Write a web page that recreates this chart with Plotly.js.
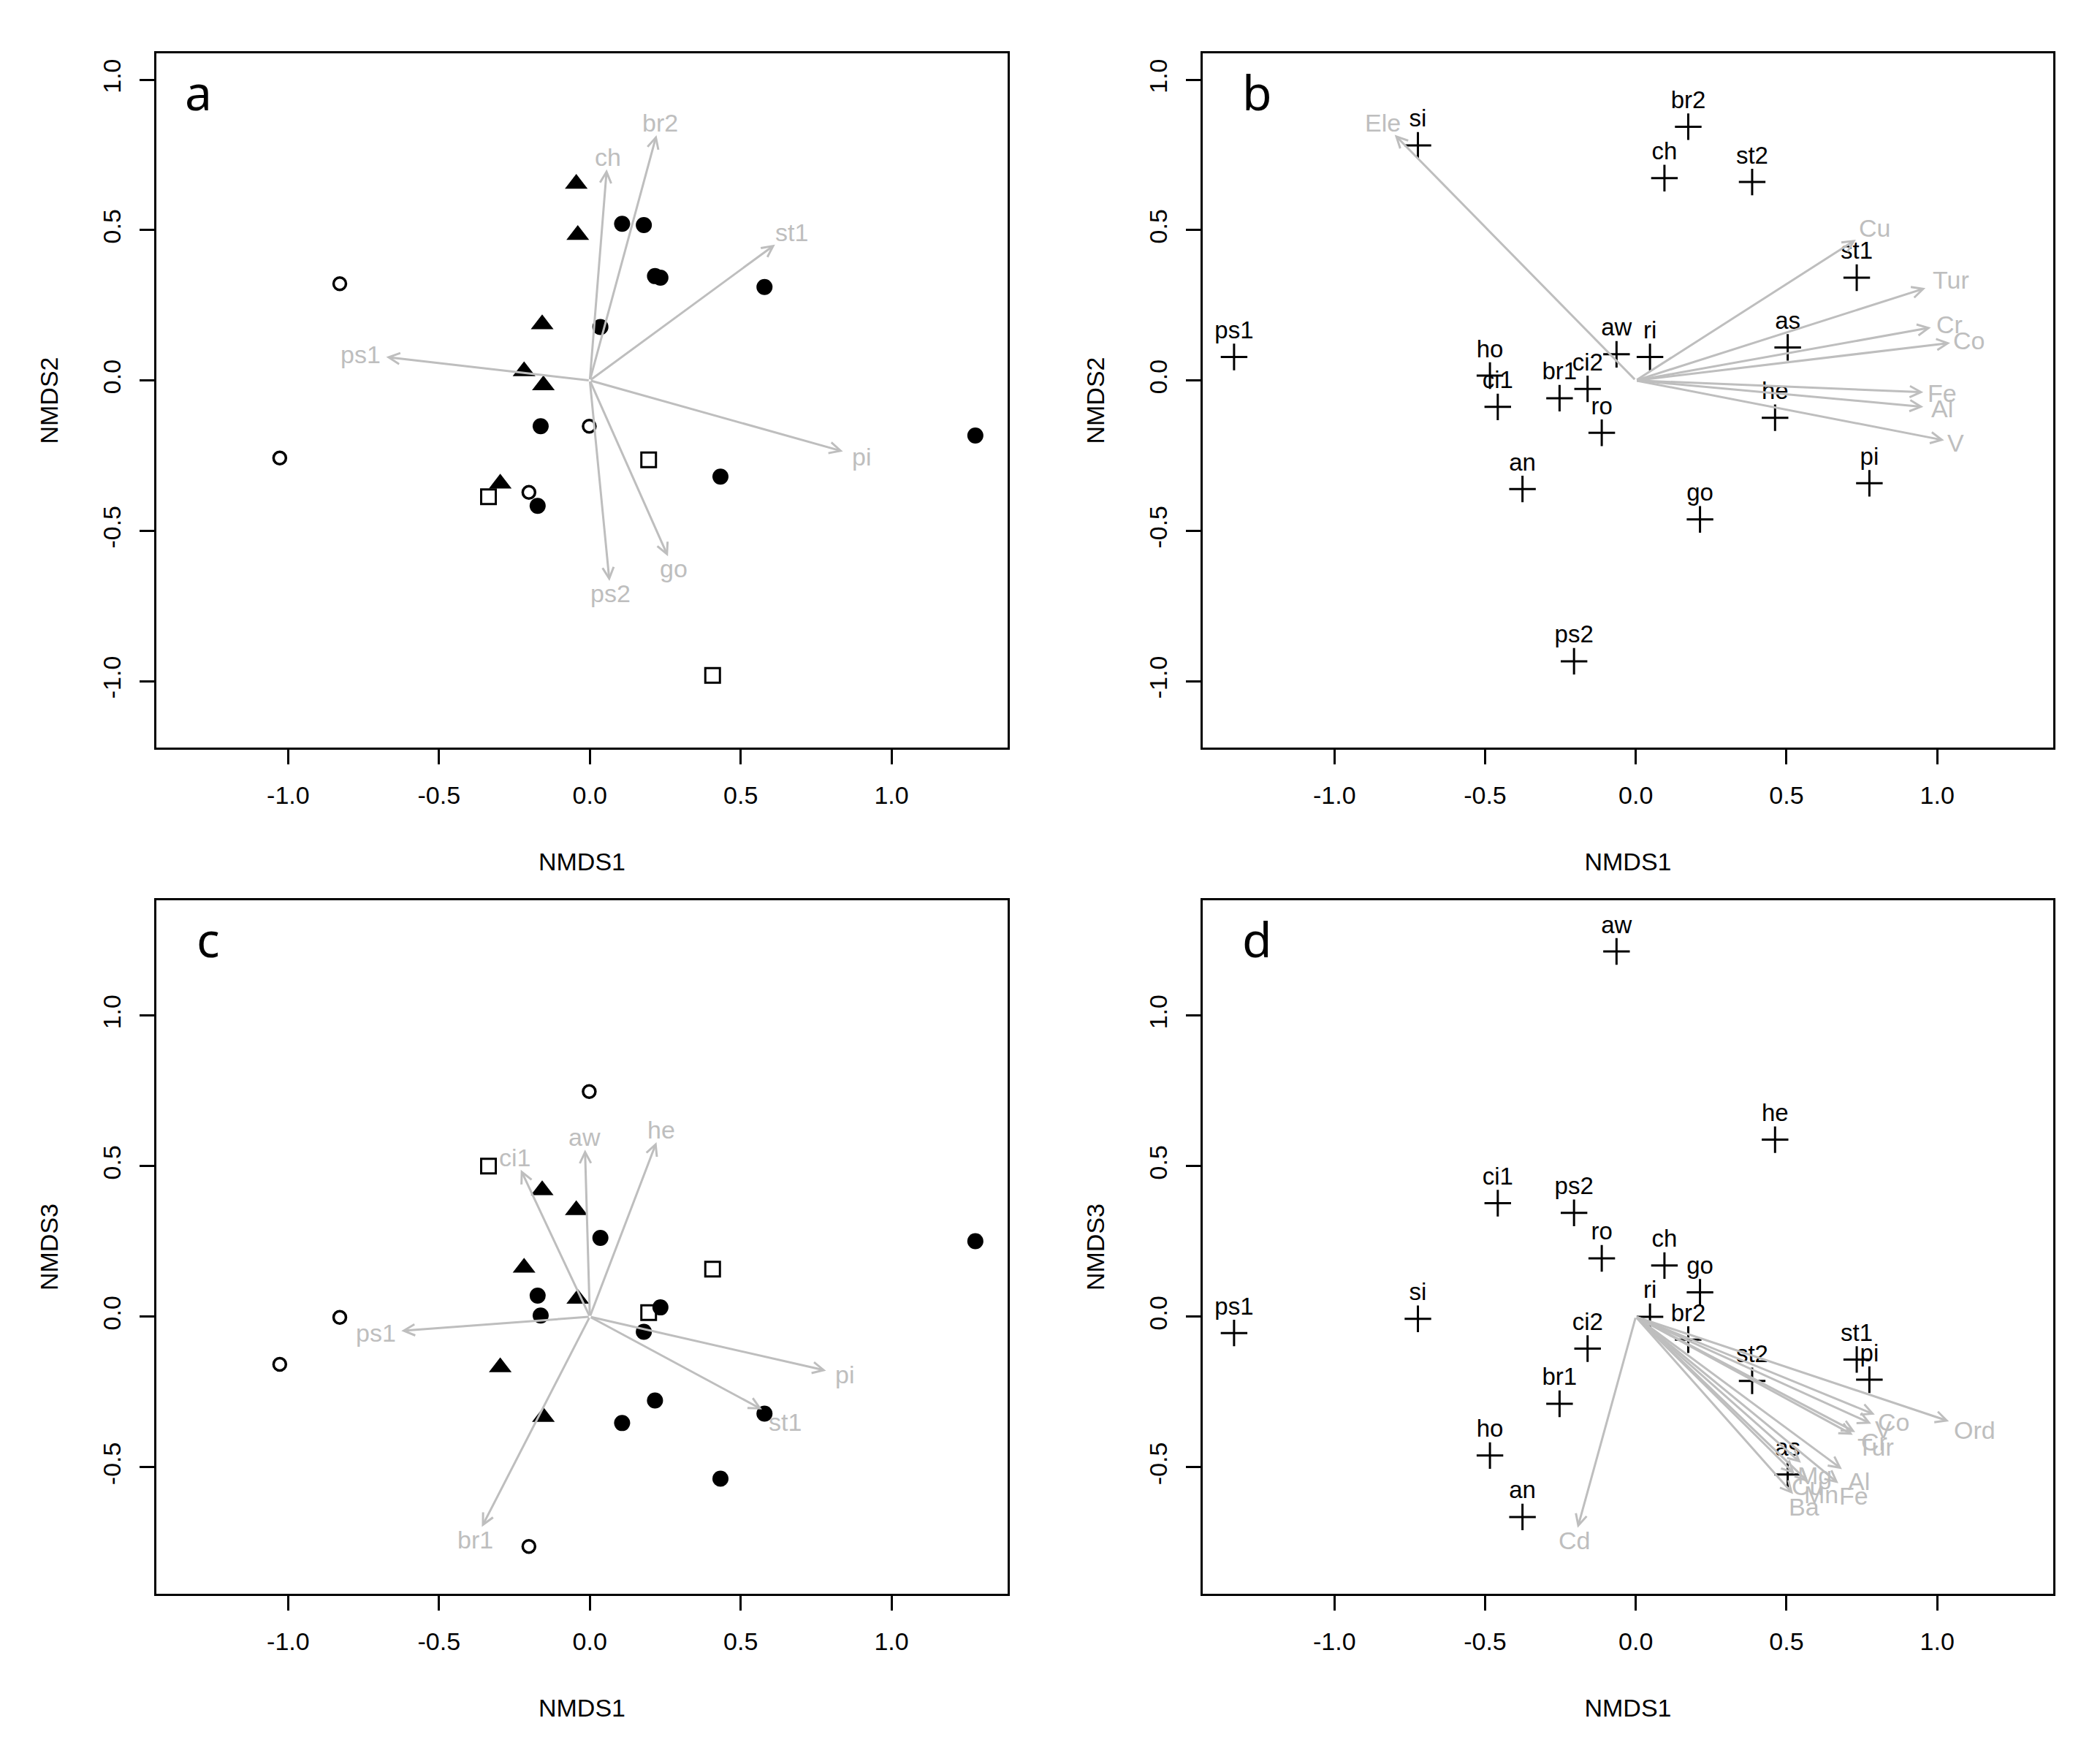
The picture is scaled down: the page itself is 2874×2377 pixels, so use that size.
<!DOCTYPE html>
<html><head><meta charset="utf-8">
<script src="https://cdn.plot.ly/plotly-3.0.1.min.js"></script>
<style>html,body{margin:0;padding:0;background:#fff;} #chart{width:2874px;height:2377px;}</style>
</head><body><div id="chart"></div>
<script>
// ---------- DATA ----------
// Panels a & c: sample scores by group (NMDS1, NMDS2, NMDS3)
const filledCircle_NMDS1 = [0.107, 0.179, 0.216, 0.234, 0.579, 0.035, -0.163, -0.173, 1.278, 0.433];
const filledCircle_NMDS2 = [0.521, 0.517, 0.347, 0.342, 0.311, 0.178, -0.152, -0.417, -0.183, -0.320];
const filledCircle_NMDS3 = [-0.353, -0.050, -0.278, 0.031, -0.322, 0.262, 0.004, 0.070, 0.251, -0.538];

const triangle_NMDS1 = [-0.045, -0.040, -0.158, -0.218, -0.154, -0.297];
const triangle_NMDS2 = [0.654, 0.484, 0.187, 0.031, -0.016, -0.343];
const triangle_NMDS3 = [0.354, 0.060, 0.420, 0.163, -0.333, -0.168];

const openCircle_NMDS1 = [-0.829, -1.028, -0.002, -0.202];
const openCircle_NMDS2 = [0.322, -0.258, -0.152, -0.372];
const openCircle_NMDS3 = [-0.002, -0.158, 0.748, -0.763];

const square_NMDS1 = [0.195, -0.336, 0.407];
const square_NMDS2 = [-0.264, -0.387, -0.981];
const square_NMDS3 = [0.014, 0.500, 0.158];

// Panel a vectors (NMDS1 vs NMDS2)
const vecA_names = ["ch", "br2", "st1", "ps1", "pi", "go", "ps2"];
const vecA_x = [0.056, 0.221, 0.614, -0.675, 0.839, 0.259, 0.065];
const vecA_y = [0.702, 0.816, 0.452, 0.078, -0.236, -0.585, -0.667];

// Panel c vectors (NMDS1 vs NMDS3)
const vecC_names = ["ci1", "aw", "he", "ps1", "pi", "st1", "br1"];
const vecC_x = [-0.229, -0.016, 0.221, -0.625, 0.783, 0.571, -0.358];
const vecC_y = [0.488, 0.555, 0.580, -0.047, -0.179, -0.308, -0.698];

// Panels b & d: site scores
const sites = ["ps1","si","ho","ci1","br1","ci2","aw","ri","ro","an","ps2","go","br2","ch","st2","st1","as","he","pi"];
const site_NMDS1 = [-1.333, -0.723, -0.484, -0.458, -0.253, -0.160, -0.064, 0.047, -0.113, -0.376, -0.205, 0.213, 0.174, 0.095, 0.386, 0.733, 0.504, 0.462, 0.775];
const site_NMDS2 = [0.078, 0.782, 0.016, -0.088, -0.059, -0.028, 0.087, 0.078, -0.174, -0.361, -0.934, -0.462, 0.844, 0.673, 0.660, 0.342, 0.110, -0.124, -0.342];
const site_NMDS3 = [-0.054, -0.007, -0.461, 0.377, -0.289, -0.106, 1.213, 0.000, 0.194, -0.665, 0.345, 0.081, -0.076, 0.170, -0.213, -0.142, -0.524, 0.588, -0.209];

// Panel b environmental vectors (NMDS1 vs NMDS2)
const vecB_names = ["Ele", "Cu", "Tur", "Cr", "Co", "Fe", "Al", "V"];
const vecB_x = [-0.800, 0.730, 0.961, 0.979, 1.043, 0.954, 0.954, 1.023];
const vecB_y = [0.817, 0.468, 0.307, 0.176, 0.125, -0.039, -0.088, -0.199];

// Panel d environmental vectors (NMDS1 vs NMDS3)
const vecD_names = ["Cd", "Ord", "Co", "V", "Cr", "Tur", "Al", "Fe", "Mn", "Mg", "Cu", "Ba"];
const vecD_x = [-0.193, 1.039, 0.793, 0.781, 0.728, 0.720, 0.684, 0.672, 0.572, 0.548, 0.527, 0.522];
const vecD_y = [-0.701, -0.347, -0.325, -0.355, -0.383, -0.392, -0.506, -0.553, -0.548, -0.485, -0.522, -0.589];

// Ticks
const xTickVals = [-1, -0.5, 0, 0.5, 1];
const xTickText = ["-1.0", "-0.5", "0.0", "0.5", "1.0"];
const yTickValsTop = [-1, -0.5, 0, 0.5, 1];
const yTickTextTop = ["-1.0", "-0.5", "0.0", "0.5", "1.0"];
const yTickValsBot = [-0.5, 0, 0.5, 1];
const yTickTextBot = ["-0.5", "0.0", "0.5", "1.0"];
const panelLetters = ["a", "b", "c", "d"];

// ---------- STYLE / LAYOUT ----------
const W = 2874, H = 2377;
const FS = 34;
const GREY = '#BEBEBE';
const FONT = 'Liberation Sans, Arial, sans-serif';
const xRange = [-1.437, 1.385];
const yRangeTop = [-1.221, 1.088];
const yRangeBot = [-0.920, 1.383];
const boxes = {
  a: {l: 214, r: 1379, t: 73, b: 1023},
  b: {l: 1646, r: 2810, t: 73, b: 1023},
  c: {l: 214, r: 1379, t: 1232, b: 2181},
  d: {l: 1646, r: 2810, t: 1232, b: 2181}
};
const dx = bx => [bx.l / W, bx.r / W];
const dy = bx => [(H - bx.b) / H, (H - bx.t) / H];

function xAxis(box, anchor) {
  return {
    domain: dx(box), anchor: anchor, range: xRange, autorange: false,
    tickmode: 'array', tickvals: xTickVals, ticktext: xTickText,
    ticks: 'outside', ticklen: 20, tickwidth: 3, tickcolor: '#000',
    showline: true, mirror: true, linecolor: '#000', linewidth: 3,
    showgrid: false, zeroline: false,
    tickfont: {family: FONT, size: FS, color: '#000'},
    ticklabelstandoff: 13,
    title: {text: 'NMDS1', font: {family: FONT, size: FS, color: '#000'}, standoff: 62},
    automargin: false, fixedrange: true
  };
}
function yAxis(box, anchor, range, vals, text, title) {
  return {
    domain: dy(box), anchor: anchor, range: range, autorange: false,
    tickmode: 'array', tickvals: vals, ticktext: text, tickangle: -90,
    ticks: 'outside', ticklen: 20, tickwidth: 3, tickcolor: '#000',
    showline: true, mirror: true, linecolor: '#000', linewidth: 3,
    showgrid: false, zeroline: false,
    tickfont: {family: FONT, size: FS, color: '#000'},
    ticklabelstandoff: 12,
    title: {text: title, font: {family: FONT, size: FS, color: '#000'}, standoff: 45},
    automargin: false, fixedrange: true
  };
}

function groupTraces(xa, ya, yField) {
  const g = [
    {x: filledCircle_NMDS1, y: yField === 2 ? filledCircle_NMDS2 : filledCircle_NMDS3,
     marker: {symbol: 'circle', size: 22, color: '#000'}},
    {x: openCircle_NMDS1, y: yField === 2 ? openCircle_NMDS2 : openCircle_NMDS3,
     marker: {symbol: 'circle-open', size: 17, color: '#000', line: {width: 3.5, color: '#000'}}},
    {x: triangle_NMDS1, y: yField === 2 ? triangle_NMDS2 : triangle_NMDS3,
     marker: {symbol: 'triangle-up', size: 27, color: '#000'}},
    {x: square_NMDS1, y: yField === 2 ? square_NMDS2 : square_NMDS3,
     marker: {symbol: 'square-open', size: 20, color: '#000', line: {width: 3, color: '#000'}}}
  ];
  return g.map(t => Object.assign({type: 'scatter', mode: 'markers', xaxis: xa, yaxis: ya,
    showlegend: false, hoverinfo: 'skip', cliponaxis: false}, t));
}
function siteTrace(xa, ya, yvals) {
  return {
    type: 'scatter', mode: 'markers+text', x: site_NMDS1, y: yvals, text: sites,
    textposition: 'top center', textfont: {family: FONT, size: 33, color: '#000'},
    marker: {symbol: 'cross-thin', size: 26, color: '#000', line: {width: 3, color: '#000'}},
    xaxis: xa, yaxis: ya, showlegend: false, hoverinfo: 'skip', cliponaxis: false
  };
}

const annotations = [];
function addVectors(names, xs, ys, xa, ya, box, yr) {
  const kx = (box.r - box.l) / (xRange[1] - xRange[0]);
  const ky = (box.b - box.t) / (yr[1] - yr[0]);
  names.forEach((n, i) => {
    annotations.push({
      xref: xa, yref: ya, axref: xa, ayref: ya,
      x: xs[i], y: ys[i], ax: 0, ay: 0, text: '',
      showarrow: true, arrowhead: 5, arrowsize: 1.0, arrowwidth: 3,
      arrowcolor: GREY, standoff: 0, startstandoff: 0
    });
    const px = xs[i] * kx, py = ys[i] * ky;
    const hw = n.length * 0.55 * FS / 2 + 0.2 * FS, hh = 0.5 * FS;
    const k = Math.min(hw / Math.max(Math.abs(px), 1e-6), hh / Math.max(Math.abs(py), 1e-6));
    annotations.push({
      xref: xa, yref: ya, x: xs[i], y: ys[i], text: n, showarrow: false,
      xshift: px * k, yshift: py * k, xanchor: 'center', yanchor: 'middle',
      font: {family: FONT, size: FS, color: GREY}
    });
  });
}
addVectors(vecA_names, vecA_x, vecA_y, 'x', 'y', boxes.a, yRangeTop);
addVectors(vecB_names, vecB_x, vecB_y, 'x2', 'y2', boxes.b, yRangeTop);
addVectors(vecC_names, vecC_x, vecC_y, 'x3', 'y3', boxes.c, yRangeBot);
addVectors(vecD_names, vecD_x, vecD_y, 'x4', 'y4', boxes.d, yRangeBot);

const letterPos = [[0.049, 0.945], [0.064, 0.945], [0.061, 0.945], [0.064, 0.945]];
const axPairs = [['x', 'y'], ['x2', 'y2'], ['x3', 'y3'], ['x4', 'y4']];
panelLetters.forEach((L, i) => {
  annotations.push({
    xref: axPairs[i][0] + ' domain', yref: axPairs[i][1] + ' domain',
    x: letterPos[i][0], y: letterPos[i][1], text: L, showarrow: false,
    xanchor: 'center', yanchor: 'middle',
    font: {family: 'Noto Sans, Open Sans, sans-serif', size: 66, color: '#000'}
  });
});

const data = [].concat(
  groupTraces('x', 'y', 2),
  [siteTrace('x2', 'y2', site_NMDS2)],
  groupTraces('x3', 'y3', 3),
  [siteTrace('x4', 'y4', site_NMDS3)]
);

const layout = {
  width: W, height: H, margin: {l: 0, r: 0, t: 0, b: 0},
  paper_bgcolor: '#fff', plot_bgcolor: '#fff', showlegend: false,
  font: {family: FONT, size: FS, color: '#000'},
  xaxis: xAxis(boxes.a, 'y'),
  yaxis: yAxis(boxes.a, 'x', yRangeTop, yTickValsTop, yTickTextTop, 'NMDS2'),
  xaxis2: xAxis(boxes.b, 'y2'),
  yaxis2: yAxis(boxes.b, 'x2', yRangeTop, yTickValsTop, yTickTextTop, 'NMDS2'),
  xaxis3: xAxis(boxes.c, 'y3'),
  yaxis3: yAxis(boxes.c, 'x3', yRangeBot, yTickValsBot, yTickTextBot, 'NMDS3'),
  xaxis4: xAxis(boxes.d, 'y4'),
  yaxis4: yAxis(boxes.d, 'x4', yRangeBot, yTickValsBot, yTickTextBot, 'NMDS3'),
  annotations: annotations
};

Plotly.newPlot('chart', data, layout, {displayModeBar: false, staticPlot: true});
</script>
</body></html>
